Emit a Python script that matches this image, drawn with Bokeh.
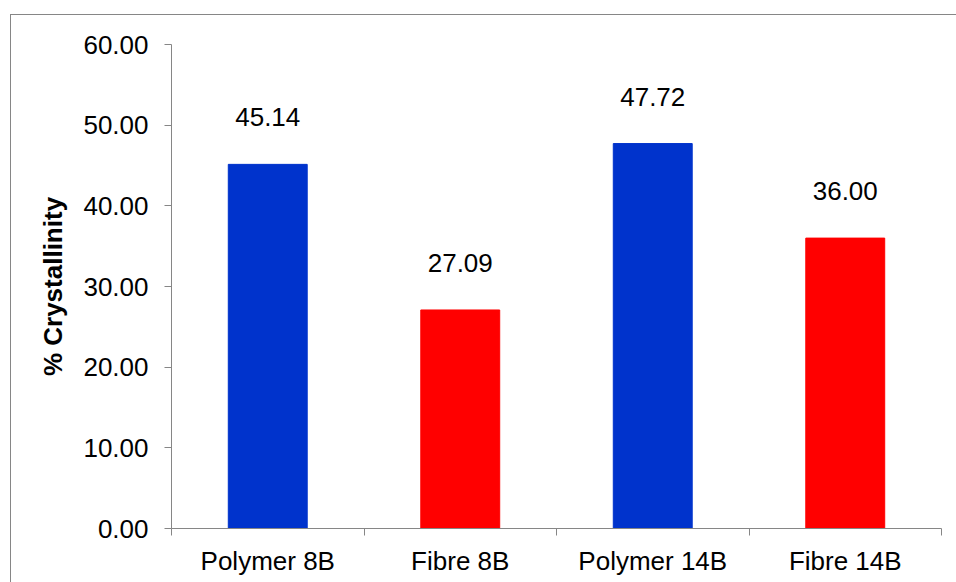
from bokeh.plotting import figure
from bokeh.models import FixedTicker, NumeralTickFormatter, ColumnDataSource
from bokeh.core.properties import value
from bokeh.embed import file_html
from bokeh.resources import INLINE

# Data
samples = ["Polymer 8B", "Fibre 8B", "Polymer 14B", "Fibre 14B"]
crystallinity = [45.14, 27.09, 47.72, 36.00]
bar_colors = ["#0033CC", "#FF0000", "#0033CC", "#FF0000"]
y_ticks = [0, 10, 20, 30, 40, 50, 60]

FONT = "Liberation Sans"
AXIS_GRAY = "#868686"

# Each category occupies one unit; bars sit at the middle of their slot
centers = [i + 0.5 for i in range(len(samples))]
source = ColumnDataSource(dict(
    x=centers,
    top=crystallinity,
    color=bar_colors,
    label=[f"{v:.2f}" for v in crystallinity],
))

p = figure(
    width=952, height=574,
    x_range=(0, len(samples)), y_range=(y_ticks[0], y_ticks[-1]),
    output_backend="svg", toolbar_location=None,
    min_border_left=160, min_border_right=22,
    min_border_top=29, min_border_bottom=61,
    margin=(14, 0, 0, 10),
)
p.styles = {"border": f"1px solid {AXIS_GRAY}", "box-sizing": "border-box"}

p.vbar(x="x", top="top", width=0.41, color="color", source=source)
p.text(x="x", y="top", text="label", source=source,
       text_font=value(FONT), text_font_size="26px", text_color="#000000",
       text_align="center", text_baseline="middle", y_offset=-47)

# Styling
p.outline_line_color = None
p.xgrid.grid_line_color = None
p.ygrid.grid_line_color = None
p.background_fill_color = "white"
p.border_fill_color = "white"

# Y axis
yax = p.yaxis[0]
yax.ticker = FixedTicker(ticks=y_ticks, minor_ticks=[])
yax.formatter = NumeralTickFormatter(format="0.00")
yax.axis_label = "% Crystallinity"
yax.axis_label_text_font = FONT
yax.axis_label_text_font_size = "26px"
yax.axis_label_text_font_style = "bold"
yax.axis_label_text_color = "#000000"
yax.axis_label_standoff = 12
yax.major_label_text_font = FONT
yax.major_label_text_font_size = "26px"
yax.major_label_text_color = "#000000"
yax.major_label_standoff = 16
yax.axis_line_color = AXIS_GRAY
yax.major_tick_line_color = AXIS_GRAY
yax.major_tick_out = 7
yax.major_tick_in = 0
yax.minor_tick_line_color = None

# X axis: labels at slot centres, tick marks at slot boundaries
xax = p.xaxis[0]
xax.ticker = FixedTicker(ticks=centers, minor_ticks=list(range(len(samples) + 1)))
xax.major_label_overrides = {c: s for c, s in zip(centers, samples)}
xax.major_label_text_font = FONT
xax.major_label_text_font_size = "26px"
xax.major_label_text_color = "#000000"
xax.major_label_standoff = 10
xax.axis_line_color = AXIS_GRAY
xax.major_tick_line_color = None
xax.minor_tick_line_color = AXIS_GRAY
xax.minor_tick_out = 7
xax.minor_tick_in = 0

open("out.html", "w").write(file_html(p, INLINE))
